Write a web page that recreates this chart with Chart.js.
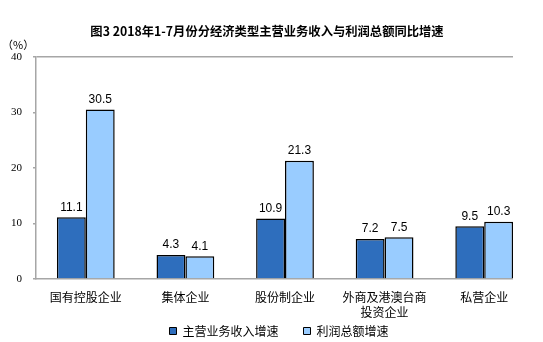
<!DOCTYPE html>
<html>
<head>
<meta charset="utf-8">
<script src="https://cdn.jsdelivr.net/npm/chart.js@4.4.1/dist/chart.umd.min.js"></script>
<style>
  html, body { margin: 0; padding: 0; background: #fff; }
  #wrap { width: 513px; height: 342px; overflow: hidden; }
</style>
</head>
<body>
<div id="wrap"><canvas id="chart" width="543" height="342"></canvas></div>
<script>
// data
const CATEGORIES = ['国有控股企业', '集体企业', '股份制企业', ['外商及港澳台商', '投资企业'], '私营企业'];
const SERIES_NAMES = ['主营业务收入增速', '利润总额增速'];
const REVENUE_GROWTH = [11.1, 4.3, 10.9, 7.2, 9.5];
const PROFIT_GROWTH  = [30.5, 4.1, 21.3, 7.5, 10.3];
const Y_TICKS = [0, 10, 20, 30, 40];

const DARK  = '#2E6EBD';
const LIGHT = '#99CCFF';
const AXIS  = '#a6a6a6';

// value labels above each bar
const barLabels = {
  id: 'barLabels',
  afterDatasetsDraw(chart) {
    const ctx = chart.ctx;
    ctx.save();
    ctx.font = '12px "Liberation Sans", Arial, sans-serif';
    ctx.fillStyle = '#000';
    ctx.textAlign = 'center';
    ctx.textBaseline = 'bottom';
    chart.data.datasets.forEach((ds, i) => {
      chart.getDatasetMeta(i).data.forEach((bar, j) => {
        ctx.fillText(ds.data[j].toFixed(1), bar.x, bar.y - 4);
      });
    });
    ctx.restore();
  }
};

// unit label "（%）" + nudge legend right/down
const extras = {
  id: 'extras',
  afterLayout(chart) {
    chart.legend.left += 24;
    chart.legend.top += 5;
  },
  afterDraw(chart) {
    const ctx = chart.ctx;
    ctx.save();
    ctx.font = '11px "Noto Sans CJK SC", sans-serif';
    ctx.fillStyle = '#000';
    ctx.textAlign = 'left';
    ctx.textBaseline = 'middle';
    ctx.fillText('（%）', 2, chart.chartArea.top - 12);
    ctx.restore();
  }
};

new Chart(document.getElementById('chart'), {
  type: 'bar',
  data: {
    labels: CATEGORIES,
    datasets: [
      { label: SERIES_NAMES[0], data: REVENUE_GROWTH, backgroundColor: DARK,  borderColor: '#000', borderWidth: 1.5, borderSkipped: 'bottom' },
      { label: SERIES_NAMES[1], data: PROFIT_GROWTH,  backgroundColor: LIGHT, borderColor: '#000', borderWidth: 1.5, borderSkipped: 'bottom' }
    ]
  },
  options: {
    responsive: false,
    animation: false,
    devicePixelRatio: 1,
    categoryPercentage: 0.58,
    barPercentage: 1,
    layout: { padding: { left: 0, right: 9, top: 0, bottom: 0 } },
    plugins: {
      title: {
        display: true,
        text: '图3 2018年1-7月份分经济类型主营业务收入与利润总额同比增速',
        color: '#000',
        font: { family: '"Noto Sans CJK SC", sans-serif', size: 12.3, weight: 'bold' },
        padding: { top: 24, bottom: 18 }
      },
      legend: {
        position: 'bottom',
        labels: {
          color: '#000',
          font: { family: '"Noto Sans CJK SC", sans-serif', size: 12 },
          boxWidth: 7, boxHeight: 7, padding: 1,
          // wider gap after the first item
          generateLabels: chart => chart.data.datasets.map((ds, i) => ({
            text: i === 0 ? ds.label + '\u3000\u3000' : ds.label,
            fillStyle: ds.backgroundColor, strokeStyle: '#000',
            lineWidth: 1, datasetIndex: i
          }))
        }
      },
      tooltip: { enabled: false }
    },
    scales: {
      x: {
        grid: { display: false },
        border: { color: AXIS, width: 1.5 },
        afterFit: s => { s.height = 40; },
        ticks: {
          color: '#000', padding: 3, maxRotation: 0, autoSkip: false,
          font: { family: '"Noto Sans CJK SC", sans-serif', size: 12, lineHeight: 1.25 }
        }
      },
      y: {
        min: Y_TICKS[0],
        max: Y_TICKS[Y_TICKS.length - 1],
        afterBuildTicks: s => { s.ticks = Y_TICKS.map(v => ({ value: v })); },
        afterFit: s => { s.width = 36; },
        grid: {
          color: c => c.tick && c.tick.value === 40 ? AXIS : 'transparent',
          tickColor: AXIS, tickLength: 3, lineWidth: 1.5
        },
        border: { color: AXIS, width: 1.5 },
        ticks: {
          color: '#000', padding: 11,
          font: { family: '"Liberation Serif", "Times New Roman", serif', size: 11 }
        }
      }
    }
  },
  plugins: [barLabels, extras]
});
</script>
</body>
</html>
